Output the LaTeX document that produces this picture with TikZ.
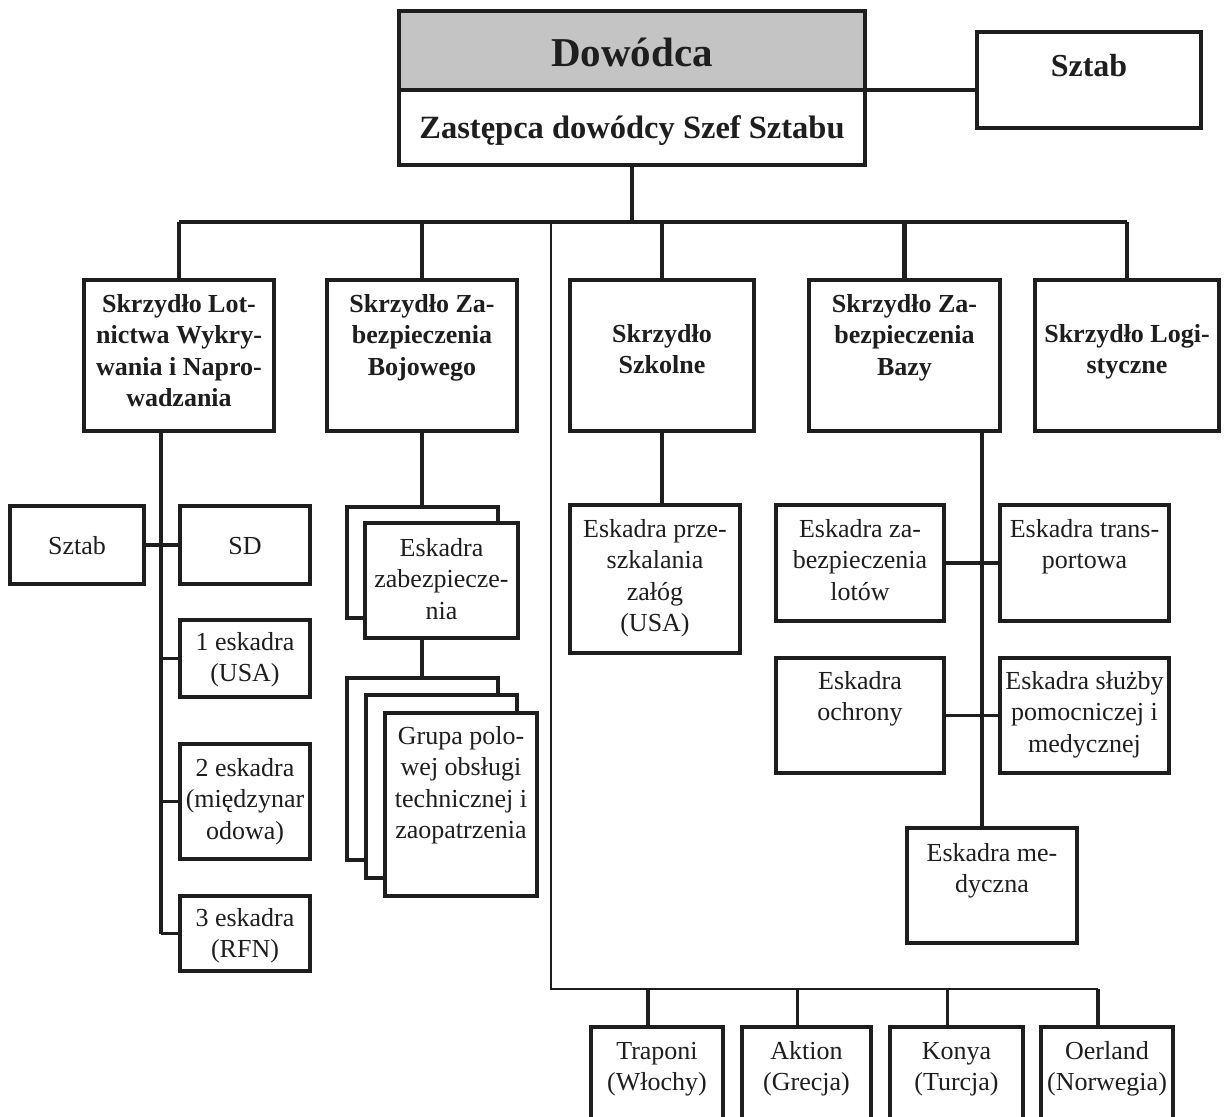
\documentclass[tikz,border=0pt]{standalone}
\usepackage{fontspec}
\setmainfont{Liberation Serif}
\definecolor{ink}{HTML}{1E1E1E}
\definecolor{band}{HTML}{C4C4C4}
% text block of fixed size, first baseline #3 below the top
\newcommand{\bx}[4]{\parbox[c][#2pt][t]{#1pt}{\centering\rule{0pt}{#3pt}#4\par}}
\tikzset{
  unit/.style={draw=ink, line width=4pt, inner sep=0pt, outer sep=0pt,
    anchor=north west, fill=white, text=ink,
    font=\fontsize{26}{31.5}\selectfont},
  head/.style={unit, font=\fontsize{26}{31.5}\selectfont\bfseries},
  link/.style={draw=ink, line width=4.5pt},
  slink/.style={draw=ink, line width=3.3pt},
  thinlink/.style={draw=ink, line width=2.4pt},
}
\begin{document}
\begin{tikzpicture}[x=1pt,y=-1pt]
\clip (0,0) rectangle (1227,1117);
\fill[white] (0,0) rectangle (1227,1117);

% command
\node[unit, fill=band, font=\fontsize{41}{48}\selectfont\bfseries] (dow) at (399,11) {\bx{466}{79}{55}{Dowódca}};
\node[unit, font=\fontsize{32.5}{38}\selectfont\bfseries] (zast) at (399,90) {\bx{466}{75}{48}{Zastępca dowódcy Szef Sztabu}};
\node[unit, font=\fontsize{32}{38}\selectfont\bfseries] (sztab) at (977,32) {\bx{224}{96}{44}{Sztab}};

% wings
\node[head] (l1) at (84,280)   {\bx{190}{151}{32}{Skrzydło Lot-\\nictwa Wykry-\\wania i Napro-\\wadzania}};
\node[head] (l2) at (327,280)  {\bx{190}{151}{32}{Skrzydło Za-\\bezpieczenia\\Bojowego}};
\node[head] (l3) at (570,280)  {\bx{184}{151}{62}{Skrzydło\\Szkolne}};
\node[head] (l4) at (809,280)  {\bx{191}{151}{32}{Skrzydło Za-\\bezpieczenia\\Bazy}};
\node[head] (l5) at (1035,280) {\bx{184}{151}{62}{Skrzydło Logi-\\styczne}};

% detection and guidance wing
\node[unit] (sztL) at (10,506)  {\bx{134}{78}{48}{Sztab}};
\node[unit] (sd)   at (180,506) {\bx{130}{78}{48}{SD}};
\node[unit] (e1)   at (180,620) {\bx{130}{77}{30}{1 eskadra\\(USA)}};
\node[unit] (e2)   at (180,744) {\bx{130}{115}{32}{2 eskadra\\(międzynar\\odowa)}};
\node[unit] (e3)   at (180,896) {\bx{130}{75}{30}{3 eskadra\\(RFN)}};

% combat support wing (stacked units)
\node[unit] (ezbB) at (347,507) {\bx{151}{111}{0}{}};
\node[unit] (ezbF) at (365,523) {\bx{153}{115}{33}{Eskadra\\zabezpiecze-\\nia}};
\node[unit] (grB)  at (347,678) {\bx{151}{182}{0}{}};
\node[unit] (grM)  at (366,695) {\bx{151}{183}{0}{}};
\node[unit] (grF)  at (385,713) {\bx{152}{183}{31}{Grupa polo-\\wej obsługi\\technicznej i\\zaopatrzenia}};

% training wing
\node[unit] (esz) at (570,505) {\bx{170}{148}{32}{Eskadra prze-\\szkalania\\załóg\\(USA)}};

% base support wing
\node[unit] (ezl) at (776,505)  {\bx{168}{116}{32}{Eskadra za-\\bezpieczenia\\lotów}};
\node[unit] (etr) at (1000,505) {\bx{169}{116}{32}{Eskadra trans-\\portowa}};
\node[unit] (eoc) at (776,658)  {\bx{168}{115}{31}{Eskadra\\ochrony}};
\node[unit] (esl) at (1000,658) {\bx{169}{115}{31}{Eskadra służby\\pomocniczej i\\medycznej}};
\node[unit] (emd) at (907,828)  {\bx{170}{115}{33}{Eskadra me-\\dyczna}};

% forward bases
\node[unit] (b1) at (591,1027)  {\bx{132}{130}{32}{Traponi\\(Włochy)}};
\node[unit] (b2) at (742,1027)  {\bx{129}{130}{32}{Aktion\\(Grecja)}};
\node[unit] (b3) at (890,1027)  {\bx{133}{130}{32}{Konya\\(Turcja)}};
\node[unit] (b4) at (1041,1027) {\bx{132}{130}{32}{Oerland\\(Norwegia)}};

% routing points
\coordinate (bus) at (0,222);
\coordinate (lsp) at (161,0);
\coordinate (bz)  at (982,0);
\coordinate (ft)  at (551,222);
\coordinate (fb)  at (551,989);
\foreach \n in {b1,b2,b3,b4} \coordinate (\n t) at ([xshift=-9pt]\n.north);

% top level
\draw[link] (dow.south east) -- (dow.south east -| sztab.west);
\draw[link] (zast.south) -- (zast.south |- bus);
\draw[link] (l1.north |- bus) -- (l5.north |- bus);
\foreach \n in {l1,l2,l3,l4,l5} \draw[link] (\n.north) -- (\n.north |- bus);

% detection and guidance wing
\draw[slink] (l1.south -| lsp) -- (e3.west -| lsp);
\draw[slink] (sztL.east) -- (sd.west);
\foreach \n in {e1,e2,e3} \draw[slink] (\n.west) -- (\n.west -| lsp);

% combat support wing
\draw[slink] (l2.south) -- (l2.south |- ezbB.north);
\draw[slink] (ezbF.south -| l2.south) -- (grB.north -| l2.south);

% training wing
\draw[slink] (l3.south) -- (l3.south |- esz.north);

% base support wing
\draw[slink] (l4.south -| bz) -- (emd.north -| bz);
\draw[slink] (ezl.east) -- (etr.west);
\draw[slink] (eoc.east) -- (esl.west);

% forward bases
\draw[thinlink] (ft) -- (fb) -- (fb -| b4t);
\foreach \n in {b1,b2,b3,b4} \draw[slink] (\n t) -- (\n t |- fb);
\end{tikzpicture}
\end{document}
